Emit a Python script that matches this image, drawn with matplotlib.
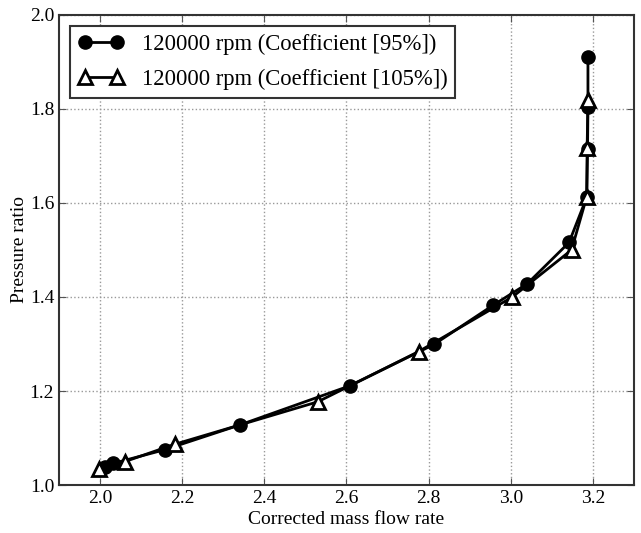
import matplotlib
matplotlib.use("Agg")
import matplotlib.pyplot as plt

# 95% coefficient series (filled circles)
flow_95 = [2.012, 2.032, 2.157, 2.341, 2.608, 2.813, 2.958, 3.040, 3.142, 3.185, 3.187, 3.188, 3.188]
pr_95 = [1.039, 1.046, 1.075, 1.128, 1.211, 1.299, 1.383, 1.428, 1.516, 1.612, 1.714, 1.804, 1.911]

# 105% coefficient series (open triangles)
flow_105 = [1.998, 2.061, 2.183, 2.530, 2.776, 3.004, 3.148, 3.185, 3.186, 3.188]
pr_105 = [1.035, 1.050, 1.087, 1.177, 1.284, 1.400, 1.500, 1.613, 1.716, 1.820]

labels = ["120000 rpm (Coefficient [95%])", "120000 rpm (Coefficient [105%])"]

plt.rcParams['font.family'] = ['Liberation Serif', 'DejaVu Serif']
plt.rcParams['xtick.direction'] = 'in'
plt.rcParams['ytick.direction'] = 'in'

fig = plt.figure(figsize=(6.41, 5.33), dpi=100)
ax = fig.add_axes([0.092, 0.09, 0.897, 0.882])

ax.plot(flow_95, pr_95, '-o', color='black', lw=2, ms=9.5, label=labels[0])
ax.plot(flow_105, pr_105, '-^', color='black', lw=2, ms=10.5, mfc='white',
        mec='black', mew=2, label=labels[1])

ax.set_xlim(1.9, 3.3)
ax.set_ylim(1.0, 2.0)
ax.set_xticks([2.0, 2.2, 2.4, 2.6, 2.8, 3.0, 3.2])
ax.set_yticks([1.0, 1.2, 1.4, 1.6, 1.8, 2.0])
ax.tick_params(top=True, right=True, labelsize=14, length=5, color='#555555')
ax.grid(True, linestyle=':', color='#999999', lw=1)
for s in ax.spines.values():
    s.set_linewidth(1.5)
    s.set_color('#333333')

ax.set_xlabel("Corrected mass flow rate", fontsize=14, labelpad=3)
ax.set_ylabel("Pressure ratio", fontsize=14, labelpad=1)

leg = ax.legend(loc='upper left', fontsize=16.3, fancybox=False, framealpha=1,
                edgecolor='#333333', handlelength=2, borderpad=0.35,
                labelspacing=0.6, numpoints=2, handletextpad=0.8,
                borderaxespad=0.5)
leg.get_frame().set_linewidth(1.5)

fig.savefig("out.png", dpi=100)
